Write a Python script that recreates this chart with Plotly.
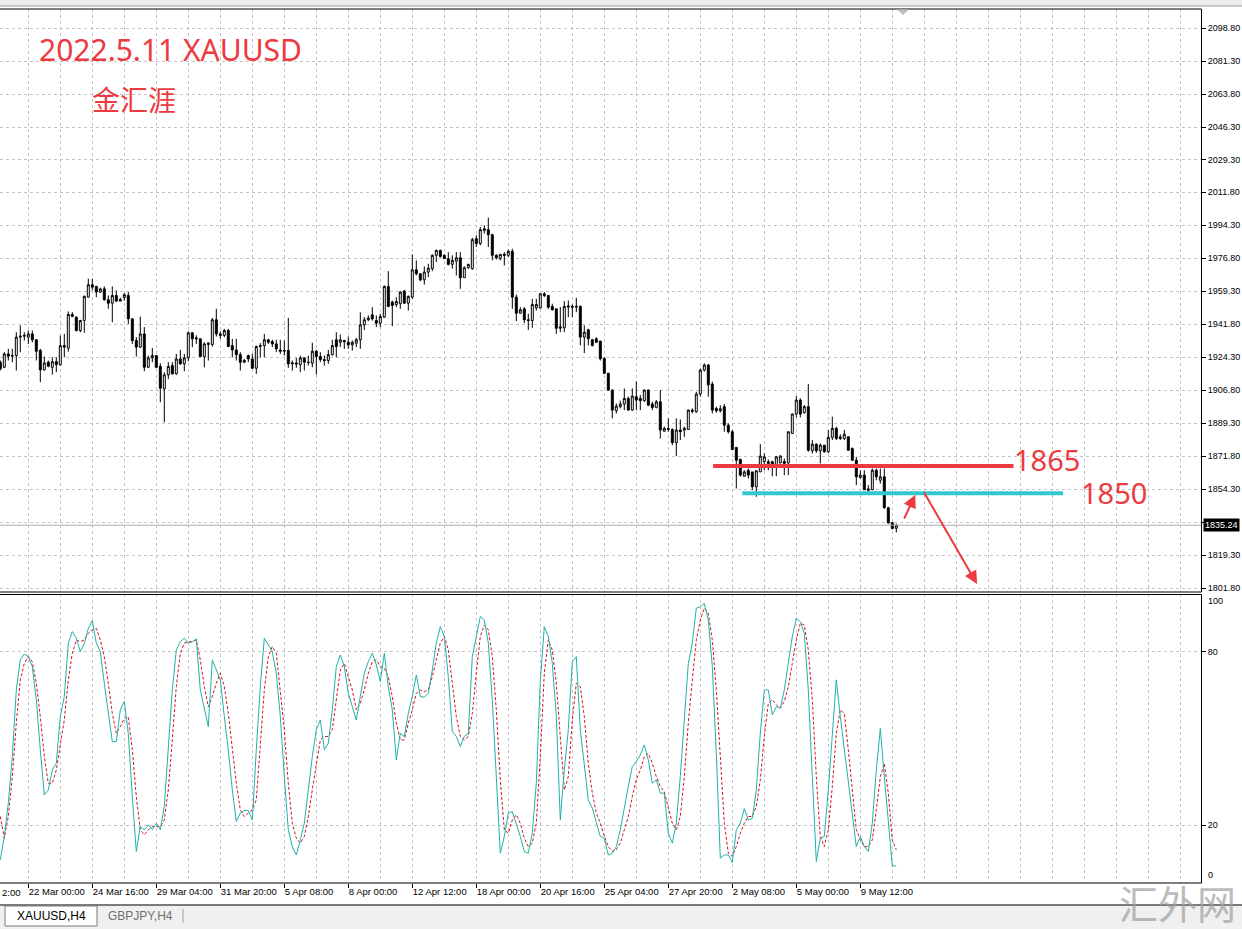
import plotly.graph_objects as go

W, H = 1242, 929

# ---------------- data ----------------
bars = list(range(225))
ohlc = [
(1921.7,1922.6,1917.3,1918.1),(1919.0,1927.0,1918.5,1926.1),(1926.1,1928.8,1922.6,1924.9),(1925.2,1928.8,1921.7,1925.0),
(1925.2,1937.6,1917.3,1935.0),(1935.0,1941.2,1927.0,1935.5),(1935.5,1937.6,1933.2,1935.9),(1935.0,1938.5,1931.4,1936.7),
(1936.7,1938.5,1932.3,1933.6),(1933.6,1933.8,1922.6,1927.5),(1927.9,1928.8,1911.1,1917.6),(1917.6,1924.7,1917.3,1921.3),
(1921.7,1922.6,1919.0,1919.6),(1919.0,1924.3,1915.1,1922.0),(1922.0,1924.3,1916.4,1920.4),(1920.3,1935.9,1919.9,1930.5),
(1930.5,1936.7,1924.3,1929.7),(1929.1,1948.6,1927.3,1947.0),(1947.0,1948.3,1945.6,1946.0),(1945.6,1946.0,1938.0,1938.5),
(1938.5,1944.2,1937.6,1943.8),(1943.8,1957.1,1937.3,1956.6),(1956.2,1966.0,1956.0,1962.8),(1962.8,1966.0,1959.8,1961.5),
(1961.9,1962.2,1956.2,1958.9),(1958.9,1961.2,1958.4,1960.6),(1960.6,1961.9,1954.4,1954.8),(1954.8,1957.1,1950.0,1953.0),
(1953.0,1961.9,1942.9,1957.1),(1957.1,1959.8,1953.6,1954.1),(1954.1,1955.9,1954.1,1955.0),(1956.0,1958.3,1954.4,1957.5),
(1957.1,1958.9,1942.0,1944.7),(1944.7,1944.9,1931.4,1933.2),(1933.2,1935.0,1924.7,1929.7),(1929.7,1945.9,1929.3,1936.7),
(1936.7,1940.3,1916.9,1919.0),(1919.0,1925.2,1918.7,1924.0),(1924.0,1929.3,1921.7,1925.2),(1925.2,1925.5,1918.5,1919.0),
(1919.5,1921.1,1900.4,1907.9),(1907.5,1916.4,1889.8,1915.0),(1915.0,1921.7,1912.8,1919.4),(1919.9,1921.7,1915.3,1915.5),
(1915.5,1926.1,1915.1,1923.4),(1923.4,1928.2,1920.4,1920.8),(1920.8,1926.1,1916.9,1924.0),(1924.0,1938.1,1922.2,1937.3),
(1937.3,1937.6,1929.7,1934.1),(1934.6,1935.9,1931.4,1934.1),(1934.1,1934.3,1924.3,1924.7),(1924.7,1932.3,1919.0,1931.4),
(1931.1,1932.3,1922.6,1931.8),(1931.1,1945.2,1930.0,1944.2),(1944.2,1950.0,1935.3,1936.7),(1936.7,1938.1,1934.1,1935.9),
(1935.9,1939.4,1935.0,1938.5),(1938.5,1939.4,1929.7,1930.0),(1930.5,1934.1,1924.3,1928.2),(1928.2,1934.1,1922.6,1925.7),
(1925.7,1927.0,1917.3,1921.7),(1921.7,1923.4,1921.2,1922.6),(1925.2,1925.7,1921.7,1923.4),(1923.4,1926.1,1918.1,1918.5),
(1918.5,1930.5,1915.5,1930.0),(1930.0,1931.8,1924.3,1930.5),(1930.5,1936.7,1924.3,1933.6),(1933.6,1934.1,1931.4,1932.3),
(1932.7,1933.6,1929.7,1931.4),(1931.4,1933.6,1927.0,1928.8),(1928.2,1933.6,1926.1,1927.5),(1927.5,1933.2,1925.2,1927.9),
(1927.9,1945.2,1918.7,1920.8),(1920.8,1922.6,1917.3,1921.3),(1921.3,1924.0,1918.7,1920.8),(1920.4,1925.2,1916.4,1924.0),
(1924.0,1924.3,1917.3,1921.7),(1921.7,1925.2,1919.9,1921.5),(1921.2,1932.0,1919.0,1927.5),(1927.5,1928.2,1915.1,1924.7),
(1924.7,1927.0,1921.7,1923.1),(1923.1,1925.2,1919.9,1922.6),(1922.6,1928.2,1920.8,1925.7),(1925.7,1933.6,1925.2,1930.5),
(1933.6,1937.6,1924.3,1930.0),(1932.3,1936.4,1929.7,1933.6),(1933.2,1933.6,1928.8,1932.5),(1932.3,1935.3,1928.8,1930.9),
(1930.9,1933.2,1927.9,1932.3),(1931.8,1934.6,1929.7,1933.6),(1933.6,1948.2,1928.8,1941.5),(1941.5,1945.6,1938.8,1944.2),
(1944.2,1946.5,1943.5,1945.1),(1946.8,1950.9,1943.8,1944.7),(1943.8,1946.5,1940.3,1942.4),(1942.4,1947.4,1940.3,1945.9),
(1945.6,1962.4,1945.2,1961.9),(1961.9,1970.0,1950.9,1951.3),(1953.6,1954.4,1940.8,1951.8),(1952.3,1956.2,1950.9,1953.9),
(1952.7,1959.4,1950.0,1958.9),(1959.4,1960.1,1952.7,1953.0),(1953.0,1957.1,1949.1,1956.6),(1956.2,1978.9,1955.3,1970.7),
(1970.7,1975.7,1967.7,1968.6),(1968.6,1969.0,1964.7,1965.4),(1965.4,1972.5,1962.9,1969.5),(1969.5,1973.9,1966.8,1971.6),
(1971.3,1978.9,1970.0,1978.4),(1978.4,1981.4,1974.8,1981.0),(1981.0,1981.4,1977.1,1977.8),(1978.4,1978.9,1976.6,1976.6),
(1976.6,1980.1,1973.0,1973.6),(1973.6,1978.4,1971.3,1975.7),(1975.3,1980.1,1967.7,1977.1),(1977.1,1980.1,1960.6,1966.5),
(1966.5,1972.5,1966.5,1971.8),(1971.8,1973.9,1971.3,1973.6),(1971.3,1987.7,1970.7,1986.7),(1987.2,1989.0,1982.8,1984.6),
(1984.6,1993.4,1983.7,1992.0),(1991.6,1994.3,1989.9,1992.5),(1992.0,1998.4,1982.8,1989.3),(1989.3,1989.9,1975.7,1978.4),
(1978.4,1978.9,1976.2,1977.1),(1976.6,1978.9,1975.7,1978.9),(1978.9,1980.1,1973.0,1978.4),(1978.4,1981.4,1977.5,1980.5),
(1980.5,1981.9,1950.0,1956.2),(1956.2,1957.6,1943.5,1947.7),(1947.7,1950.9,1947.4,1949.5),(1950.0,1950.9,1942.4,1944.2),
(1944.2,1947.4,1938.8,1943.8),(1943.8,1955.3,1939.9,1952.3),(1950.5,1955.3,1949.1,1952.3),(1950.5,1958.0,1950.0,1958.0),
(1958.0,1958.9,1956.2,1957.1),(1957.1,1957.1,1950.0,1950.9),(1951.3,1952.7,1949.1,1949.5),(1950.0,1950.0,1936.7,1939.7),
(1939.7,1950.9,1937.6,1940.5),(1940.0,1954.1,1937.6,1951.3),(1950.9,1954.4,1945.6,1951.5),(1951.3,1952.3,1945.6,1950.9),
(1950.9,1955.8,1948.2,1951.3),(1951.3,1951.8,1930.6,1935.0),(1935.0,1941.2,1926.5,1937.6),(1938.9,1939.4,1930.6,1934.1),
(1933.6,1934.1,1930.0,1930.6),(1934.1,1935.0,1931.8,1932.3),(1932.9,1932.9,1922.6,1923.5),(1923.7,1924.3,1915.4,1915.8),
(1915.8,1916.1,1906.6,1906.9),(1906.9,1907.3,1891.9,1896.3),(1896.0,1899.8,1894.5,1898.4),(1898.1,1901.3,1897.2,1899.5),
(1899.5,1907.8,1896.3,1902.5),(1902.5,1903.4,1895.9,1896.3),(1896.3,1907.8,1895.9,1903.7),(1903.4,1911.4,1896.3,1901.6),
(1902.5,1904.3,1896.3,1901.3),(1901.3,1907.3,1900.7,1906.9),(1906.9,1907.3,1898.4,1898.9),(1899.5,1900.7,1896.3,1897.7),
(1897.7,1901.6,1897.2,1900.7),(1900.7,1906.9,1881.2,1885.7),(1885.1,1887.5,1884.8,1886.6),(1886.0,1891.9,1884.8,1886.5),
(1886.0,1886.6,1877.7,1879.0),(1879.0,1891.9,1871.9,1885.7),(1885.7,1891.3,1880.4,1884.8),(1885.7,1887.5,1882.1,1886.6),
(1886.0,1896.6,1885.7,1896.3),(1896.3,1897.2,1894.5,1895.7),(1895.4,1906.0,1894.9,1904.8),(1904.8,1918.4,1903.4,1917.5),
(1917.5,1921.1,1916.7,1920.2),(1920.2,1920.7,1903.4,1909.6),(1910.1,1911.4,1894.5,1896.3),(1897.2,1898.1,1894.9,1895.9),
(1895.9,1898.9,1895.0,1897.0),(1898.1,1899.5,1884.8,1888.3),(1888.3,1889.2,1883.9,1884.8),(1884.8,1885.7,1875.0,1875.4),
(1876.5,1876.5,1854.7,1869.7),(1870.1,1870.6,1860.9,1861.8),(1861.2,1864.4,1860.9,1863.5),(1864.4,1865.3,1860.0,1861.8),
(1863.5,1863.5,1853.8,1855.6),(1855.6,1864.4,1850.3,1864.1),(1863.5,1878.2,1863.5,1871.9),(1869.0,1873.3,1864.4,1871.5),
(1868.9,1870.1,1864.4,1868.0),(1868.9,1869.4,1861.2,1866.2),(1866.2,1871.9,1861.2,1871.5),(1868.3,1872.4,1868.0,1871.9),
(1869.0,1870.6,1861.8,1868.0),(1868.3,1884.8,1861.8,1884.8),(1883.9,1894.5,1883.6,1894.2),(1894.2,1903.7,1892.4,1901.6),
(1901.6,1902.5,1892.4,1894.2),(1894.9,1899.0,1894.5,1898.1),(1898.1,1910.1,1874.2,1875.0),(1874.7,1880.4,1873.3,1878.2),
(1878.2,1878.6,1873.6,1874.7),(1874.7,1878.6,1868.0,1877.7),(1877.7,1877.7,1873.6,1874.2),(1874.2,1885.7,1873.6,1881.8),
(1881.8,1892.8,1880.4,1886.6),(1886.6,1887.5,1880.4,1881.2),(1882.1,1883.5,1880.4,1881.2),(1881.2,1885.7,1880.4,1883.5),
(1882.1,1882.5,1874.7,1875.0),(1875.9,1876.5,1869.4,1869.7),(1869.7,1871.5,1856.5,1860.9),(1860.5,1864.4,1860.0,1861.8),
(1861.8,1864.4,1853.8,1854.1),(1854.5,1856.5,1853.0,1853.8),(1854.1,1865.3,1853.8,1864.4),(1864.4,1865.3,1859.1,1860.9),
(1859.1,1865.3,1857.3,1860.9),(1860.9,1865.3,1844.0,1844.5),(1844.5,1845.0,1836.0,1836.5),(1836.5,1837.0,1833.0,1833.5),
(1833.6,1836.0,1831.4,1835.24),
]
open_ = [r[0] for r in ohlc]
high = [r[1] for r in ohlc]
low = [r[2] for r in ohlc]
close = [r[3] for r in ohlc]

stoch_main = [
8.0,16.1,27.6,43.7,66.8,77.2,79.2,78.3,74.9,63.4,46.1,30.5,32.2,39.1,41.4,57.6,64.5,83.0,87.0,84.7,
80.1,83.0,88.1,90.8,83.0,80.1,69.1,58.7,48.9,48.9,59.9,62.8,51.8,29.9,10.9,19.5,18.4,20.1,18.4,20.7,
18.4,26.5,46.1,66.8,80.6,83.5,84.7,83.0,83.5,84.5,66.8,60.5,54.1,77.2,73.7,70.3,57.6,46.1,32.2,21.3,
24.2,25.1,25.1,21.8,46.1,68.0,84.7,82.4,80.1,72.6,57.6,36.8,18.4,12.6,9.7,14.9,
20.7,32.2,43.7,53.0,56.4,46.1,48.4,59.9,74.9,78.9,74.9,65.7,61.0,56.4,64.5,72.6,76.6,79.5,75.5,69.7,
79.5,68.0,59.9,42.6,51.8,50.7,58.7,64.5,72.0,64.5,64.3,65.7,73.7,83.0,88.7,85.3,71.4,52.4,50.7,47.2,
50.7,51.8,78.3,85.3,92.2,91.0,83.0,63.4,36.8,10.3,16.1,24.2,24.7,20.7,16.1,10.9,10.3,17.2,34.5,70.0,
88.7,85.3,76.0,57.6,21.8,39.1,53.0,76.6,78.3,53.0,41.4,28.8,25.9,20.7,16.1,
15.5,9.7,10.3,12.6,18.4,26.5,33.4,40.3,42.0,44.3,47.8,42.6,34.5,35.7,31.1,31.1,17.2,13.8,20.7,36.8,
55.3,76.0,83.0,95.1,95.6,96.8,91.0,74.9,44.9,8.6,9.7,9.7,7.1,18.4,20.7,25.7,21.8,22.4,32.2,51.8,
66.8,66.8,58.2,61.0,60.5,66.8,76.0,85.3,91.6,90.4,86.4,66.8,36.8,7.4,15.5,16.1,32.2,53.0,70.3,57.6,
46.1,34.5,23.0,12.6,16.1,12.6,10.9,20.7,39.1,53.5,36.8,20.7,5.9,5.9,
]
stoch_signal = [
23.0,15.5,23.0,36.8,55.3,70.3,76.0,78.3,76.6,69.1,57.6,43.7,34.5,34.5,39.1,48.4,56.4,70.3,79.5,84.1,
83.5,84.1,86.4,87.6,88.1,84.1,78.3,69.1,58.7,51.8,54.1,57.0,57.6,46.1,29.9,18.4,16.7,18.4,19.5,19.5,
19.5,21.8,32.2,49.5,68.0,79.5,83.0,83.5,83.5,84.1,77.2,68.0,61.0,64.5,69.1,72.6,68.0,58.7,47.2,34.5,
25.3,23.0,24.2,25.3,28.8,47.2,66.8,78.3,81.8,79.5,66.8,53.0,34.5,20.7,15.5,13.8,
16.1,23.0,32.2,41.4,49.5,50.7,50.7,53.0,63.4,73.7,76.0,71.4,66.8,59.9,62.2,66.8,72.6,76.6,77.2,74.9,
74.3,71.4,64.5,55.3,49.5,49.5,55.3,59.9,65.7,66.8,66.2,66.8,71.4,77.2,83.0,85.3,80.6,69.1,57.6,50.7,
49.5,50.7,58.7,72.6,85.3,89.3,87.6,78.3,59.9,35.7,18.4,17.2,21.8,23.6,20.7,15.5,12.6,13.8,20.7,43.7,
72.6,84.1,80.6,69.1,51.8,32.2,36.8,56.4,69.1,68.0,57.6,41.4,31.1,24.2,20.7,
16.1,12.6,10.9,11.5,13.8,18.4,23.0,29.9,35.7,39.1,43.7,44.9,41.4,36.8,33.4,31.6,26.5,20.7,18.4,23.0,
36.8,55.3,70.3,84.1,91.0,95.1,93.3,84.1,66.8,41.4,20.7,10.3,9.2,12.6,17.2,20.7,23.0,23.0,26.5,35.7,
50.7,62.2,63.4,61.6,60.5,62.8,68.0,76.0,84.1,89.9,89.3,80.6,63.4,36.8,16.1,12.6,18.4,33.4,51.8,59.9,
58.7,46.1,32.2,18.4,14.9,12.6,12.6,14.9,25.3,36.8,41.4,31.1,14.9,11.5,
]

price_ticks = [2098.80, 2081.30, 2063.80, 2046.30, 2029.30, 2011.80, 1994.30, 1976.80, 1959.30,
               1941.80, 1924.30, 1906.80, 1889.30, 1871.80, 1854.30, 1819.30, 1801.80]
price_grid_only = [1836.80]
time_tick_bars = [7, 23, 39, 55, 71, 87, 103, 119, 135, 151, 167, 183, 199, 215]
time_tick_labels = ["22 Mar 00:00", "24 Mar 16:00", "29 Mar 04:00", "31 Mar 20:00", "5 Apr 08:00",
                    "8 Apr 00:00", "12 Apr 12:00", "18 Apr 00:00", "20 Apr 16:00", "25 Apr 04:00",
                    "27 Apr 20:00", "2 May 08:00", "5 May 00:00", "9 May 12:00"]
last_price = 1835.24
level_values = [1866.7, 1852.2]
level_labels = ["1865", "1850"]
stoch_levels = [80, 20]

# ---------------- helpers ----------------
def px(x):
    return x / W

def py(y):
    return 1 - y / H

GRID = "#C4C4C4"
RED = "#EC3A40"
CYAN = "#30C8CF"
XR = [-0.075, 300.175]
XDOM = [0, 1201 / W]

fig = go.Figure()

fig.add_trace(go.Candlestick(
    x=bars, open=open_, high=high, low=low, close=close,
    increasing=dict(line=dict(color="black", width=1), fillcolor="white"),
    decreasing=dict(line=dict(color="black", width=1), fillcolor="black"),
    whiskerwidth=0, hoverinfo="skip", xaxis="x", yaxis="y", showlegend=False,
))

fig.add_trace(go.Scatter(x=bars, y=stoch_signal, mode="lines", xaxis="x2", yaxis="y2",
                         line=dict(color="#D4141E", width=1, dash="3px,2px"), hoverinfo="skip"))
fig.add_trace(go.Scatter(x=bars, y=stoch_main, mode="lines", xaxis="x2", yaxis="y2",
                         line=dict(color="#20B2AA", width=1), hoverinfo="skip"))

grid_bars = list(range(7, 301, 8))
minor_grid = dict(tickmode="array", tickvals=grid_bars, showgrid=True, gridcolor=GRID,
                  griddash="3px,3px", gridwidth=1, ticks="")
AXFONT = dict(family="Liberation Sans", size=9, color="black")
TFONT = dict(family="Liberation Sans", size=9.5, color="black")

fig.update_layout(
    width=W, height=H, margin=dict(l=0, r=0, t=0, b=0),
    paper_bgcolor="white", plot_bgcolor="white", showlegend=False, hovermode=False,
    xaxis=dict(domain=XDOM, range=XR, showticklabels=False, showgrid=False, zeroline=False,
               rangeslider=dict(visible=False), minor=minor_grid, ticks="", showline=False),
    yaxis=dict(domain=[py(592), py(9)], range=[1799.8, 2109.05], side="right",
               tickvals=price_ticks + price_grid_only,
               ticktext=["%.2f" % v for v in price_ticks] + [""],
               showgrid=True, gridcolor=GRID, griddash="3px,3px", gridwidth=1,
               ticks="outside", ticklen=4, tickcolor="black", zeroline=False, tickfont=AXFONT),
    xaxis2=dict(domain=XDOM, range=XR, anchor="y2", matches="x",
                tickmode="array", tickvals=time_tick_bars, ticktext=time_tick_labels,
                ticklabelposition="outside right", tickangle=0, ticks="outside", ticklen=4,
                tickcolor="black", showgrid=False, zeroline=False, minor=minor_grid, tickfont=TFONT),
    yaxis2=dict(domain=[py(883), py(594)], range=[0, 100], side="right", anchor="x2",
                tickvals=stoch_levels, ticktext=[str(v) for v in stoch_levels],
                showgrid=True, gridcolor=GRID, griddash="3px,3px", gridwidth=1,
                ticks="outside", ticklen=4, tickcolor="black", zeroline=False, tickfont=AXFONT),
)

shapes = []
def pline(x0, y0, x1, y1, color="black", width=1):
    shapes.append(dict(type="line", xref="paper", yref="paper", x0=px(x0), y0=py(y0),
                       x1=px(x1), y1=py(y1), line=dict(color=color, width=width), layer="above"))

# top strip
shapes.append(dict(type="rect", xref="paper", yref="paper", x0=0, x1=1, y0=py(6), y1=1,
                   fillcolor="#ECECEC", line=dict(width=0), layer="above"))
pline(0, 6, W, 6, "#9A9A9A", 1)
# panel frames
pline(0, 9, 1201.5, 9)
pline(1201.5, 9, 1201.5, 592)
pline(0, 592, 1201.5, 592)
pline(0, 594.5, 1201.5, 594.5)
pline(1201.5, 594.5, 1201.5, 883)
pline(0, 883, 1201.5, 883)
# shift marker triangle
shapes.append(dict(type="path", xref="paper", yref="paper",
                   path="M %f %f L %f %f L %f %f Z" % (px(897), py(9.5), px(909), py(9.5), px(903), py(15)),
                   fillcolor="#BDBDBD", line=dict(width=0), layer="above"))
# bottom tab bar
shapes.append(dict(type="rect", xref="paper", yref="paper", x0=0, x1=1, y0=0, y1=py(905),
                   fillcolor="#F0F0F0", line=dict(width=0), layer="above"))
pline(0, 905, W, 905, "#505050", 1.5)
shapes.append(dict(type="rect", xref="paper", yref="paper", x0=px(5), x1=px(97), y0=py(926), y1=py(906),
                   fillcolor="white", line=dict(color="#7A7A7A", width=1), layer="above"))
pline(183, 909, 183, 923, "#A0A0A0", 1)
# last price line
shapes.append(dict(type="line", xref="x", yref="y", x0=XR[0], x1=XR[1], y0=last_price, y1=last_price,
                   line=dict(color="#ABABAB", width=1), layer="above"))
# drawn levels
shapes.append(dict(type="line", xref="x", yref="y", x0=178.2, x1=253.3, y0=level_values[0], y1=level_values[0],
                   line=dict(color=RED, width=4), layer="above"))
shapes.append(dict(type="line", xref="x", yref="y", x0=185.5, x1=265.7, y0=level_values[1], y1=level_values[1],
                   line=dict(color=CYAN, width=4), layer="above"))
fig.update_layout(shapes=shapes)

ann = []
ann.append(dict(xref="paper", yref="paper", x=px(37), y=py(50), xanchor="left", yanchor="middle",
                text="2022.5.11 XAUUSD", showarrow=False,
                font=dict(family="Noto Sans", size=30, color=RED)))
ann.append(dict(xref="paper", yref="paper", x=px(90), y=py(99), xanchor="left", yanchor="middle",
                text="金汇涯", showarrow=False,
                font=dict(family="Noto Sans CJK SC", size=28, color=RED)))
ann.append(dict(xref="x", yref="y", x=253.0, y=level_values[0] + 3.5, xanchor="left", yanchor="middle",
                text=level_labels[0], showarrow=False,
                font=dict(family="Noto Sans", size=29, color=RED)))
ann.append(dict(xref="x", yref="y", x=269.7, y=level_values[1] + 0.3, xanchor="left", yanchor="middle",
                text=level_labels[1], showarrow=False,
                font=dict(family="Noto Sans", size=29, color=RED)))
# arrows
ann.append(dict(xref="x", yref="y", axref="x", ayref="y", x=228.75, y=1851.4, ax=225.8, ay=1838.0,
                text="", showarrow=True, arrowhead=2, arrowsize=1.3, arrowwidth=2, arrowcolor=RED))
ann.append(dict(xref="x", yref="y", axref="x", ayref="y", x=244.2, y=1804.0, ax=230.7, ay=1853.5,
                text="", showarrow=True, arrowhead=2, arrowsize=1.3, arrowwidth=2, arrowcolor=RED))
# last price label
ann.append(dict(xref="paper", yref="y", x=px(1202.5), y=last_price, xanchor="left", yanchor="middle",
                text="%.2f" % last_price, showarrow=False, bgcolor="black", borderpad=1,
                font=dict(family="Liberation Sans", size=9, color="white")))
# stochastic scale ends
ann.append(dict(xref="paper", yref="paper", x=px(1206), y=py(601), xanchor="left", yanchor="middle",
                text="100", showarrow=False, font=AXFONT))
ann.append(dict(xref="paper", yref="paper", x=px(1206), y=py(875), xanchor="left", yanchor="middle",
                text="0", showarrow=False, font=AXFONT))
# partial time label at left edge
ann.append(dict(xref="paper", yref="paper", x=0, y=py(892), xanchor="left", yanchor="middle",
                text="2:00", showarrow=False, font=TFONT))
# tabs
ann.append(dict(xref="paper", yref="paper", x=px(51), y=py(916), xanchor="center", yanchor="middle",
                text="XAUUSD,H4", showarrow=False, font=dict(family="Liberation Sans", size=12, color="black")))
ann.append(dict(xref="paper", yref="paper", x=px(140), y=py(916), xanchor="center", yanchor="middle",
                text="GBPJPY,H4", showarrow=False, font=dict(family="Liberation Sans", size=12, color="#707070")))
# watermark
ann.append(dict(xref="paper", yref="paper", x=px(1177), y=py(902), xanchor="center", yanchor="middle",
                text="汇外网", showarrow=False, opacity=0.7,
                font=dict(family="Noto Sans CJK SC", size=39, color="#A0A0A0")))
fig.update_layout(annotations=ann)

fig.write_html("out.html", config={"displayModeBar": False},
               post_script="document.body.style.margin='0';document.body.style.overflow='hidden';")
